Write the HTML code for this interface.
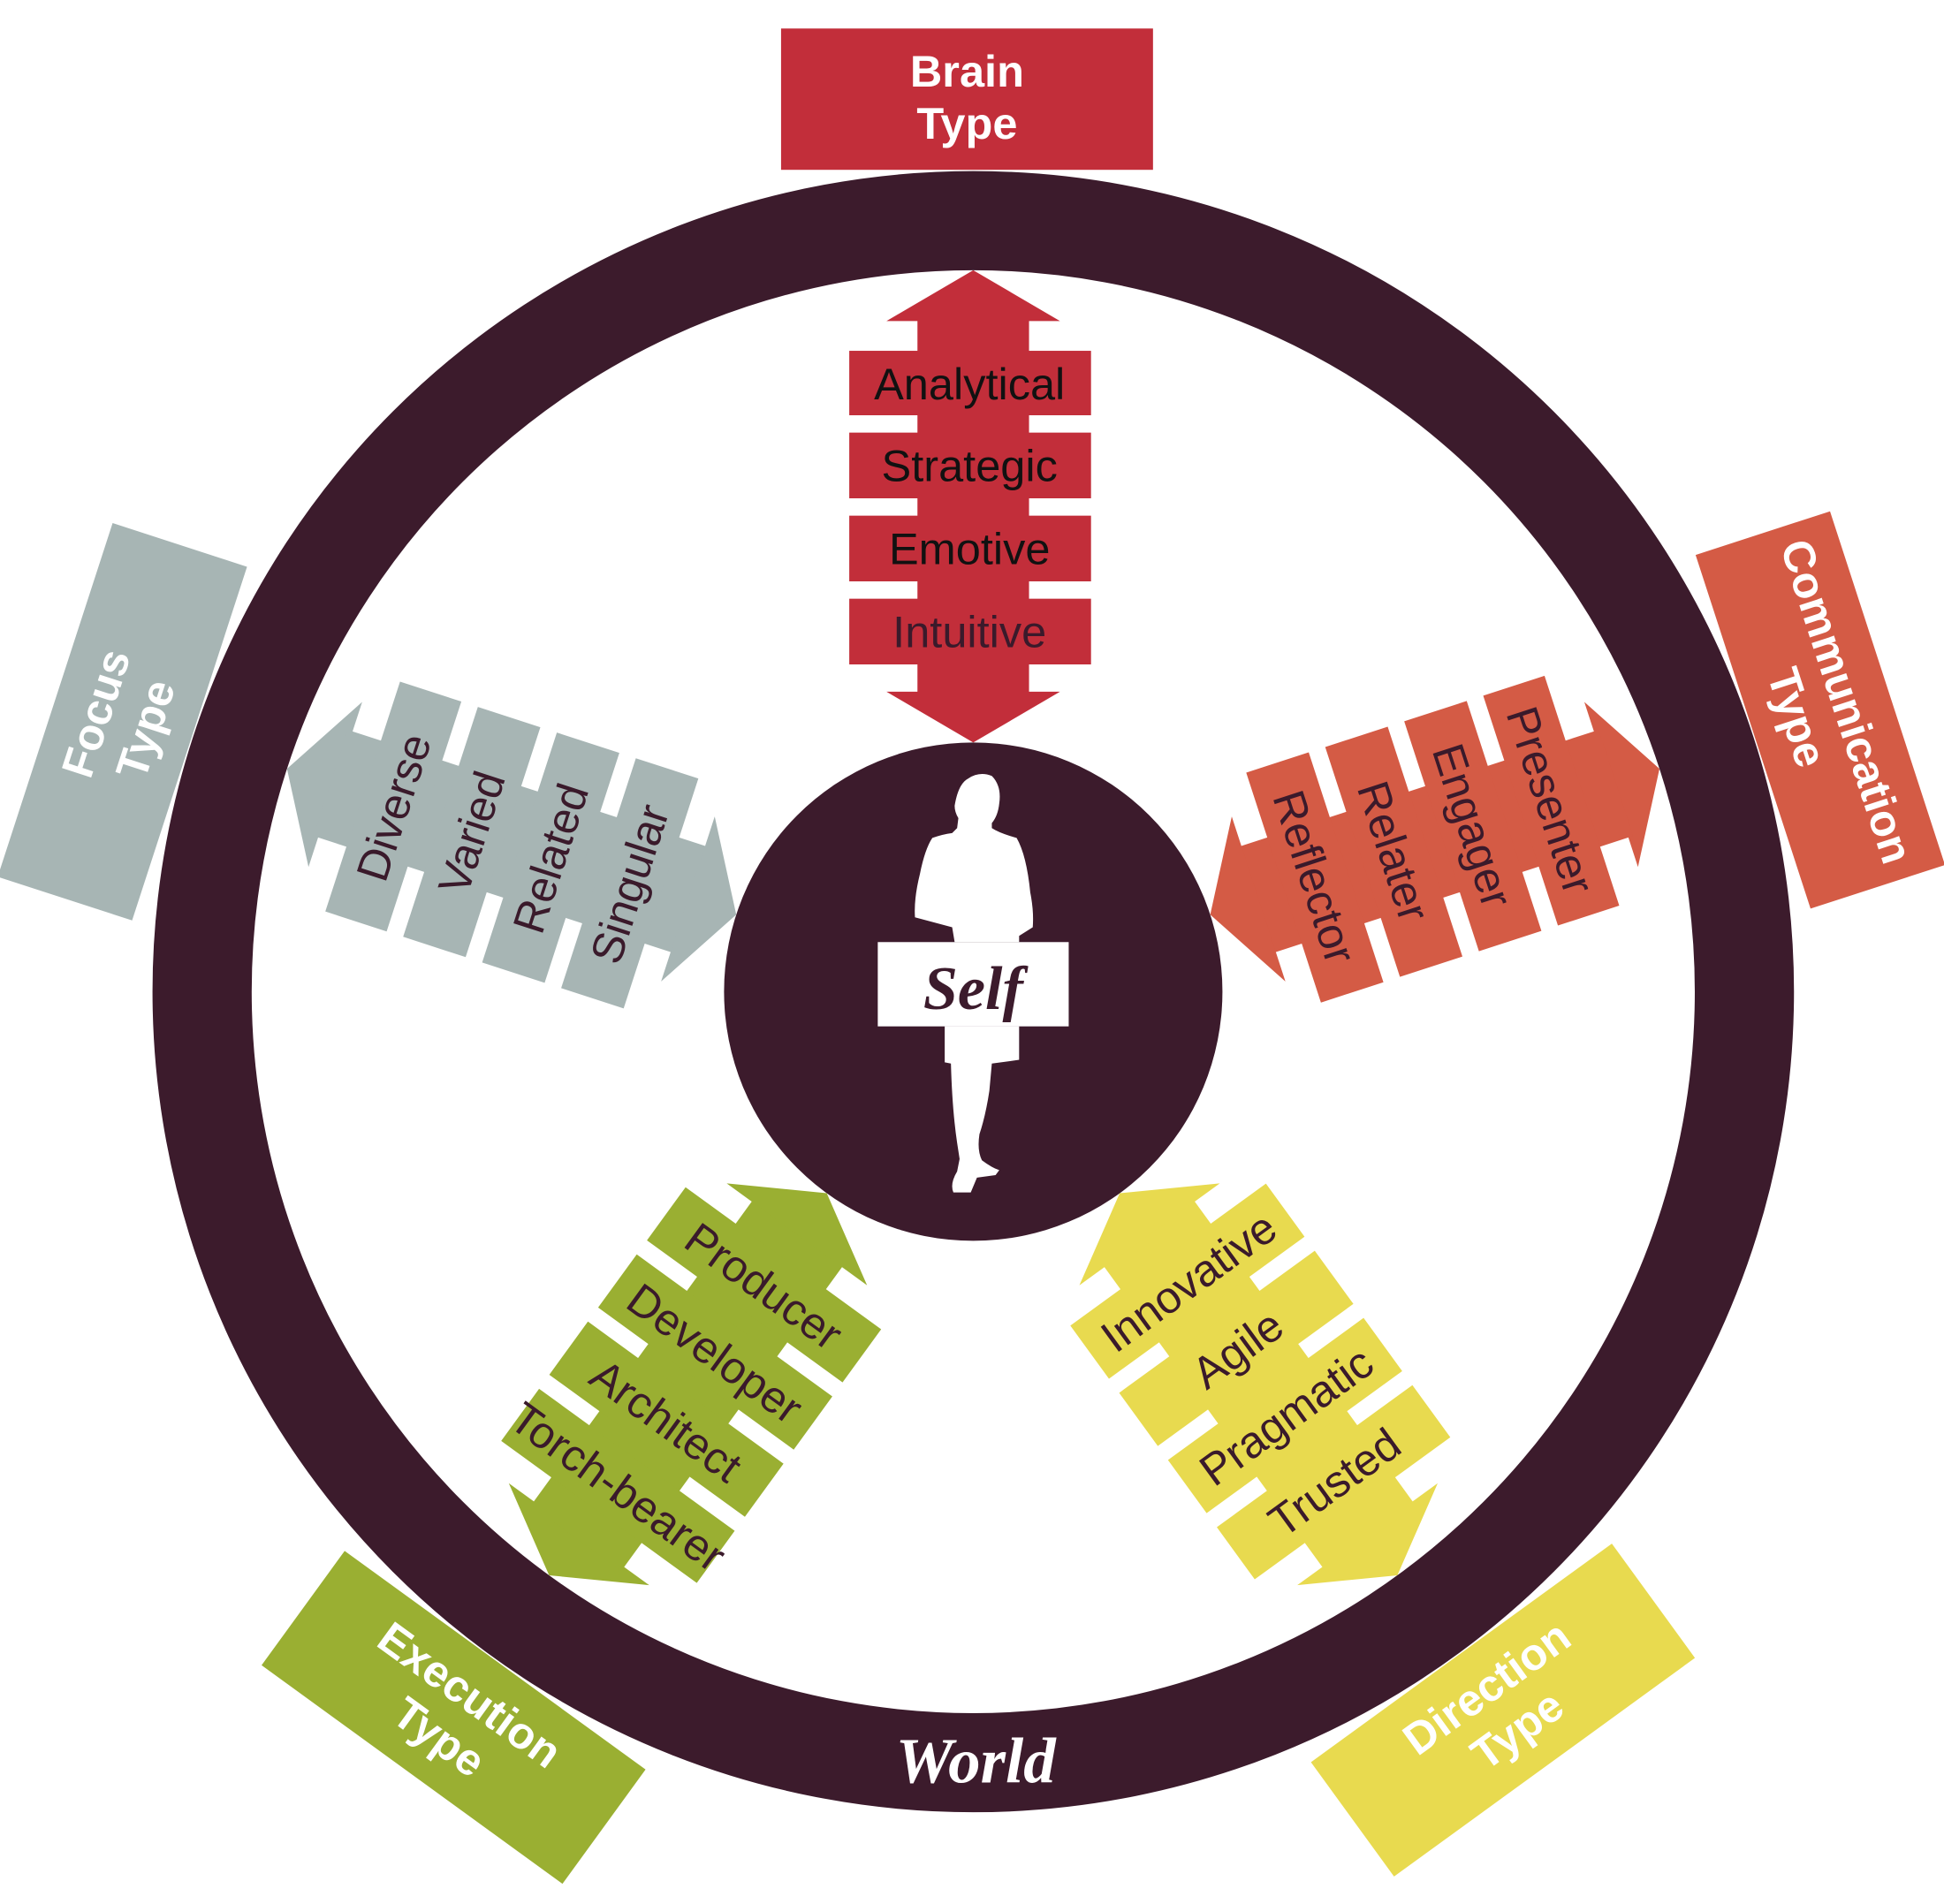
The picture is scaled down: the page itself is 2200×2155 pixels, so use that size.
<!DOCTYPE html>
<html><head><meta charset="utf-8"><style>
html,body{margin:0;padding:0;background:#fff;}
svg{display:block;}
.it{font-family:"Liberation Sans Narrow","Liberation Sans",sans-serif;font-size:36px;text-anchor:middle;fill:#3a1a2b;}
.lb{font-family:"Liberation Sans Narrow","Liberation Sans",sans-serif;font-weight:bold;font-size:36px;text-anchor:middle;fill:#fff;}
</style></head><body>
<svg width="2200" height="2155" viewBox="0 0 1568 1536" preserveAspectRatio="none" xmlns="http://www.w3.org/2000/svg">
<defs>
<g id="arr">
<polygon points="785,218 855,259 715,259"/>
<rect x="740" y="255" width="90" height="308"/>
<rect x="685" y="283" width="195" height="52"/>
<rect x="685" y="349" width="195" height="53"/>
<rect x="685" y="416" width="195" height="53"/>
<rect x="685" y="483" width="195" height="53"/>
<polygon points="715,558 855,558 785,599"/>
</g>
</defs>
<circle cx="785" cy="800" r="622" fill="none" stroke="#3c1b2c" stroke-width="80"/>
<circle cx="785" cy="800" r="201" fill="#3c1b2c"/>

<!-- top: Brain -->
<g>
<rect x="630" y="23" width="300" height="114" fill="#c22e3a"/>
<text class="lb" x="780" y="70">Brain</text><text class="lb" x="780" y="112">Type</text>
<use href="#arr" fill="#c22e3a"/>
<text class="it" x="782" y="322" fill="#111" style="fill:#111">Analytical</text>
<text class="it" x="782" y="388" style="fill:#111">Strategic</text>
<text class="it" x="782" y="455" style="fill:#111">Emotive</text>
<text class="it" x="782" y="522">Intuitive</text>
</g>
<!-- right: Communication -->
<g transform="rotate(72,785,800)">
<rect x="630" y="23" width="300" height="114" fill="#d45b45"/>
<text class="lb" x="780" y="70">Communication</text><text class="lb" x="780" y="112">Type</text>
<use href="#arr" fill="#d45b45"/>
<text class="it" x="782" y="322">Presenter</text>
<text class="it" x="782" y="388">Engager</text>
<text class="it" x="782" y="455">Relater</text>
<text class="it" x="782" y="522">Reflector</text>
</g>
<!-- lower right: Direction -->
<g transform="rotate(144,785,800)">
<rect x="630" y="23" width="300" height="114" fill="#e8da4f"/>
<g transform="rotate(180,780,80)"><text class="lb" x="780" y="70">Direction</text><text class="lb" x="780" y="112">Type</text></g>
<use href="#arr" fill="#e8da4f"/>
<text class="it" x="782" y="322" transform="rotate(180,782,309)">Trusted</text>
<text class="it" x="782" y="388" transform="rotate(180,782,375)">Pragmatic</text>
<text class="it" x="782" y="455" transform="rotate(180,782,442)">Agile</text>
<text class="it" x="782" y="522" transform="rotate(180,782,509)">Innovative</text>
</g>
<!-- lower left: Execution -->
<g transform="rotate(216,785,800)">
<rect x="630" y="23" width="300" height="114" fill="#9aaf32"/>
<g transform="rotate(180,780,80)"><text class="lb" x="780" y="70">Execution</text><text class="lb" x="780" y="112">Type</text></g>
<use href="#arr" fill="#9aaf32"/>
<text class="it" x="782" y="322" transform="rotate(180,782,309)">Torch-bearer</text>
<text class="it" x="782" y="388" transform="rotate(180,782,375)">Architect</text>
<text class="it" x="782" y="455" transform="rotate(180,782,442)">Developer</text>
<text class="it" x="782" y="522" transform="rotate(180,782,509)">Producer</text>
</g>
<!-- left: Focus -->
<g transform="rotate(288,785,800)">
<rect x="630" y="23" width="300" height="114" fill="#a7b5b4"/>
<text class="lb" x="780" y="70">Focus</text><text class="lb" x="780" y="112">Type</text>
<use href="#arr" fill="#a7b5b4"/>
<text class="it" x="782" y="322">Diverse</text>
<text class="it" x="782" y="388">Varied</text>
<text class="it" x="782" y="455">Related</text>
<text class="it" x="782" y="522">Singular</text>
</g>

<!-- silhouette -->
<g fill="#fff">
<path d="M781,628 Q790,622 800,626 Q808,634 806,648 Q805,658 800,664 L800,668 Q806,672 820,676 Q828,690 831,720 Q834,735 833,748 L822,755 L822,760 L770,760 L768,748 L738,740 Q737,725 742,705 Q746,685 752,676 Q760,673 768,672 L772,668 L773,660 Q770,655 770,650 Q773,632 781,628 Z"/>
<path d="M762,828 L822,828 L822,855 L800,858 L798,880 Q795,900 790,915 Q788,928 792,936 Q800,942 806,944 L803,948 L788,950 L783,962 L769,962 Q766,955 772,945 L774,935 L772,922 Q768,895 767,858 L762,857 Z"/>
<rect x="708" y="760" width="154" height="68"/>
</g>
<text x="785" y="814" text-anchor="middle" font-family="'Liberation Serif',serif" font-style="italic" font-weight="bold" font-size="50" fill="#3c1b2c">Self</text>
<text x="787" y="1438" text-anchor="middle" font-family="'Liberation Serif',serif" font-style="italic" font-weight="bold" font-size="52" fill="#fff">World</text>
</svg>
</body></html>
